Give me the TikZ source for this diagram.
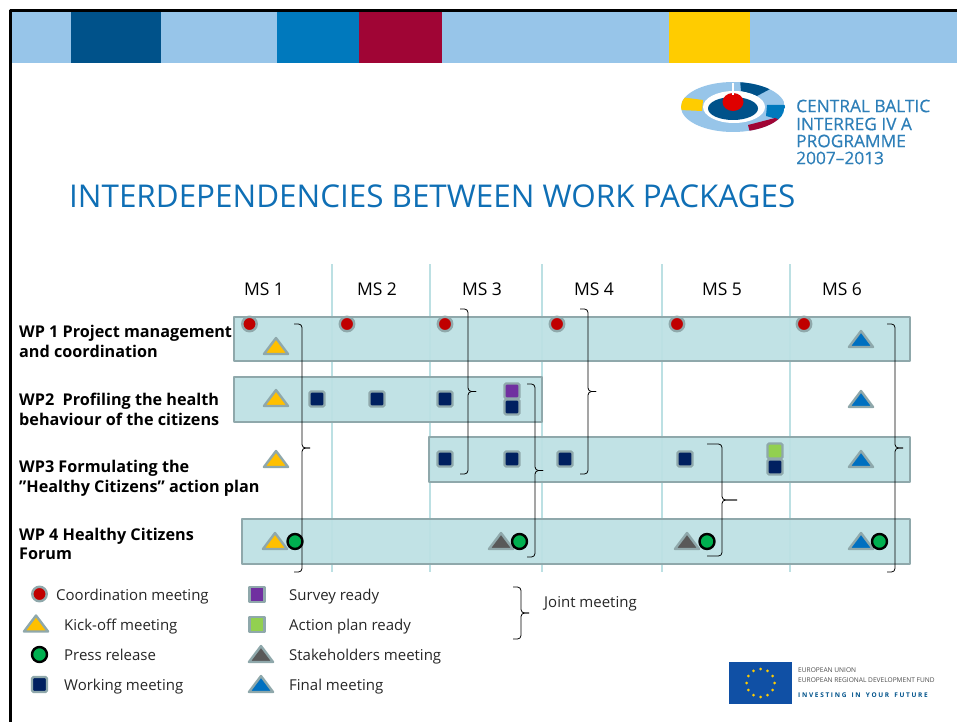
\documentclass[tikz,border=0pt]{standalone}
\usepackage{fontspec}
\setmainfont{Open Sans}
\newfontfamily\logofont[FakeBold=0.4]{Open Sans}
\usetikzlibrary{shapes.geometric}
\definecolor{skyband}{HTML}{97C5E9}
\definecolor{navyband}{HTML}{00528A}
\definecolor{blueband}{HTML}{0079BD}
\definecolor{wineband}{HTML}{A00535}
\definecolor{goldband}{HTML}{FFCC00}
\definecolor{barfill}{HTML}{BCE0E3}
\definecolor{barline}{HTML}{8FA8AB}
\definecolor{titleblue}{HTML}{0F6FB5}
\definecolor{logoblue}{HTML}{2E7FB8}
\definecolor{workfill}{HTML}{002060}
\definecolor{surveyfill}{HTML}{7030A0}
\definecolor{planfill}{HTML}{92D050}
\definecolor{kickfill}{HTML}{FFC000}
\definecolor{stakefill}{HTML}{595959}
\definecolor{finalfill}{HTML}{0070C0}
\definecolor{coordfill}{HTML}{C00000}
\definecolor{pressfill}{HTML}{00B050}
\definecolor{euflag}{HTML}{1050A5}
\tikzset{
	wpbar/.style={draw=barline,fill=barfill,line width=2.8pt,fill opacity=.92},
	mslabel/.style={font=\fontsize{17.5}{18}\selectfont,anchor=center},
	wplabel/.style={font=\fontsize{16.2}{19.8}\selectfont\bfseries,anchor=west,align=left,inner sep=0pt},
	keylabel/.style={font=\fontsize{15}{18}\selectfont,anchor=west,text=black!85,inner sep=0pt},
	logotext/.style={font=\fontsize{17.3}{18}\logofont,anchor=west,text=logoblue,inner sep=0pt},
	eutext/.style={font=\fontsize{6.6}{7}\selectfont,anchor=west,text=black!70,inner sep=0pt},
	coordmark/.style={circle,draw=barline,fill=coordfill,line width=2.4pt,minimum size=14.5pt,inner sep=0pt},
	pressmark/.style={circle,draw=black,fill=pressfill,line width=2.4pt,minimum size=15pt,inner sep=0pt},
	workmark/.style={rectangle,rounded corners=1.5pt,draw=barline,fill=workfill,line width=2.4pt,minimum size=15pt,inner sep=0pt},
	trimark/.style={isosceles triangle,isosceles triangle apex angle=74,shape border rotate=90,draw=barline,fill=#1,line width=2.4pt,minimum height=16pt,inner sep=0pt,line join=round,yshift=-1pt},
	jointbrace/.style={line width=.8pt,rounded corners=3.5pt}
}
\begin{document}
\begin{tikzpicture}[x=1pt,y=-1pt,line join=round]
	\useasboundingbox (0,0) rectangle (957,722);
	% top band
	\fill[skyband] (11,11) rectangle (957,63);
	\fill[navyband] (71,11) rectangle (161,63);
	\fill[blueband] (277,11) rectangle (359,63);
	\fill[wineband] (359,11) rectangle (441.5,63);
	\fill[goldband] (669,11) rectangle (750,63);
	\draw[line width=2.6pt] (957,10.5) -- (10.5,10.5) -- (10.5,722);
	% logo
	\begin{scope}
		\clip (733,107) ellipse (52 and 25);
		\fill[skyband] (681,82) rectangle (785,132);
		\fill[goldband] (680,97) -- (703,100) -- (702,111) -- (680,110) -- cycle;
		\fill[navyband] (740,80) -- (772,88) -- (757,96) -- (741,91) -- cycle;
		\fill[blueband] (767,105) -- (786,105) -- (780,120) -- (766,116) -- cycle;
		\fill[wineband] (748,125) -- (775,118) -- (780,120) -- (762,133) -- (750,133) -- cycle;
	\end{scope}
	\fill[white] (734,107) ellipse (31 and 16);
	\fill[navyband] (733,108.5) ellipse (25 and 11.5);
	\fill[coordfill!50!red] (733,102) ellipse (10.5 and 9);
	\draw[white,line width=1.6pt] (733,83) -- (733,95);
	\node[logotext] (logoa) at (796,106) {CENTRAL BALTIC};
	\node[logotext] (logob) at (796,124) {INTERREG IV A};
	\node[logotext] (logoc) at (796,141) {PROGRAMME};
	\node[logotext] (logod) at (796,158) {2007–2013};
	% title
	\node[anchor=west,text=titleblue,font=\fontsize{31.4}{34}\selectfont,inner sep=0pt] (title) at (69,196) {INTERDEPENDENCIES BETWEEN WORK PACKAGES};
	% milestone lines
	\foreach \x in {332,430,542,662,790}
	\draw[barfill,line width=1.6pt] (\x,264) -- (\x,572);
	% work packages
	\draw[wpbar] (234,317) rectangle (910,361);
	\draw[wpbar] (234,377) rectangle (542,422);
	\draw[wpbar] (429,437) rectangle (910,482);
	\draw[wpbar] (242,519) rectangle (910,564);
	\node[mslabel] (msa) at (264,289) {MS 1};
	\node[mslabel] (msb) at (377,289) {MS 2};
	\node[mslabel] (msc) at (482,289) {MS 3};
	\node[mslabel] (msd) at (594,289) {MS 4};
	\node[mslabel] (mse) at (722,289) {MS 5};
	\node[mslabel] (msf) at (842,289) {MS 6};
	\node[wplabel] (wpa) at (19,341.5) {WP 1 Project management\\and coordination};
	\node[wplabel] (wpb) at (19,409) {WP2~ Profiling the health\\behaviour of the citizens};
	\node[wplabel] (wpc) at (19,478) {WP3 Formulating the\\”Healthy Citizens” action plan};
	\node[wplabel] (wpd) at (19,544) {WP 4 Healthy Citizens\\Forum};
	% markers
	\foreach \x in {249.5,347,445,557,677,804}
	\node[coordmark] (cm\x) at (\x,324) {};
	\foreach \x/\y in {276/347,276/399,276/460,275/542}
	\node[trimark=kickfill] (km\y) at (\x,\y) {};
	\foreach \x/\y in {861/340,861/400,861/460,861/542}
	\node[trimark=finalfill] (fm\y) at (\x,\y) {};
	\foreach \x in {501,687}
	\node[trimark=stakefill] (sm\x) at (\x,542) {};
	\foreach \x in {295,519.5,707,879.5}
	\node[pressmark] (pr\x) at (\x,541.5) {};
	\foreach \x in {317,377,445}
	\node[workmark] (wa\x) at (\x,399) {};
	\foreach \x in {445,512,565,685}
	\node[workmark] (wb\x) at (\x,459) {};
	\node[workmark,fill=surveyfill] (su) at (512,391) {};
	\node[workmark] (wc) at (512,407) {};
	\node[workmark,fill=planfill] (ap) at (775,451) {};
	\node[workmark] (wd) at (775,467) {};
	% joint meetings
	\foreach \n/\x/\ya/\yb/\w in {a/294/324/572/8,b/460/309/474/8,c/527/384/557/8,d/580/309/474/8,e/707/444/556/15,f/887/324/572/8,g/513/587/639/8}{
		\coordinate (br\n t) at (\x,\ya);
		\coordinate (br\n b) at (\x,\yb);
		\coordinate (br\n m) at ({\x+2*\w},{(\ya+\yb)/2});
		\draw[jointbrace] (br\n t) -- ++(\w,0) |- (br\n m);
		\draw[jointbrace] (br\n b) -- ++(\w,0) |- (br\n m);
	}
	% legend
	\node[coordmark] (kca) at (39.5,594) {};
	\node[trimark=kickfill] (kcb) at (36,624.5) {};
	\node[pressmark] (kcc) at (39.5,654.5) {};
	\node[workmark] (kcd) at (39.5,684.5) {};
	\node[workmark,fill=surveyfill,rounded corners=0pt] (kce) at (257,594.5) {};
	\node[workmark,fill=planfill,rounded corners=0pt] (kcf) at (257,624.5) {};
	\node[trimark=stakefill] (kcg) at (261,655) {};
	\node[trimark=finalfill] (kch) at (261,685) {};
	\node[keylabel] (kta) at (56,597) {Coordination meeting};
	\node[keylabel] (ktb) at (64,627) {Kick-off meeting};
	\node[keylabel] (ktc) at (64,655) {Press release};
	\node[keylabel] (ktd) at (64,686.5) {Working meeting};
	\node[keylabel] (kte) at (289,597) {Survey ready};
	\node[keylabel] (ktf) at (289,627) {Action plan ready};
	\node[keylabel] (ktg) at (289,657) {Stakeholders meeting};
	\node[keylabel] (kth) at (289,687) {Final meeting};
	\node[keylabel] (ktj) at (544,604) {Joint meeting};
	% eu flag
	\fill[euflag] (729,662) rectangle (792,704);
	\foreach \a in {0,30,...,330}
	\fill[goldband] ({760.5+14*cos(\a)},{683+14*sin(\a)}) circle (1.5);
	\node[eutext] (eua) at (798,670) {EUROPEAN UNION};
	\node[eutext] (eub) at (798,680) {EUROPEAN REGIONAL DEVELOPMENT FUND};
	\node[eutext,font=\fontsize{6.5}{7}\selectfont\bfseries,text=navyband] (euc) at (798,695) {I N V E S T I N G \ \ I N \ \ Y O U R \ \ F U T U R E};
\end{tikzpicture}
\end{document}
